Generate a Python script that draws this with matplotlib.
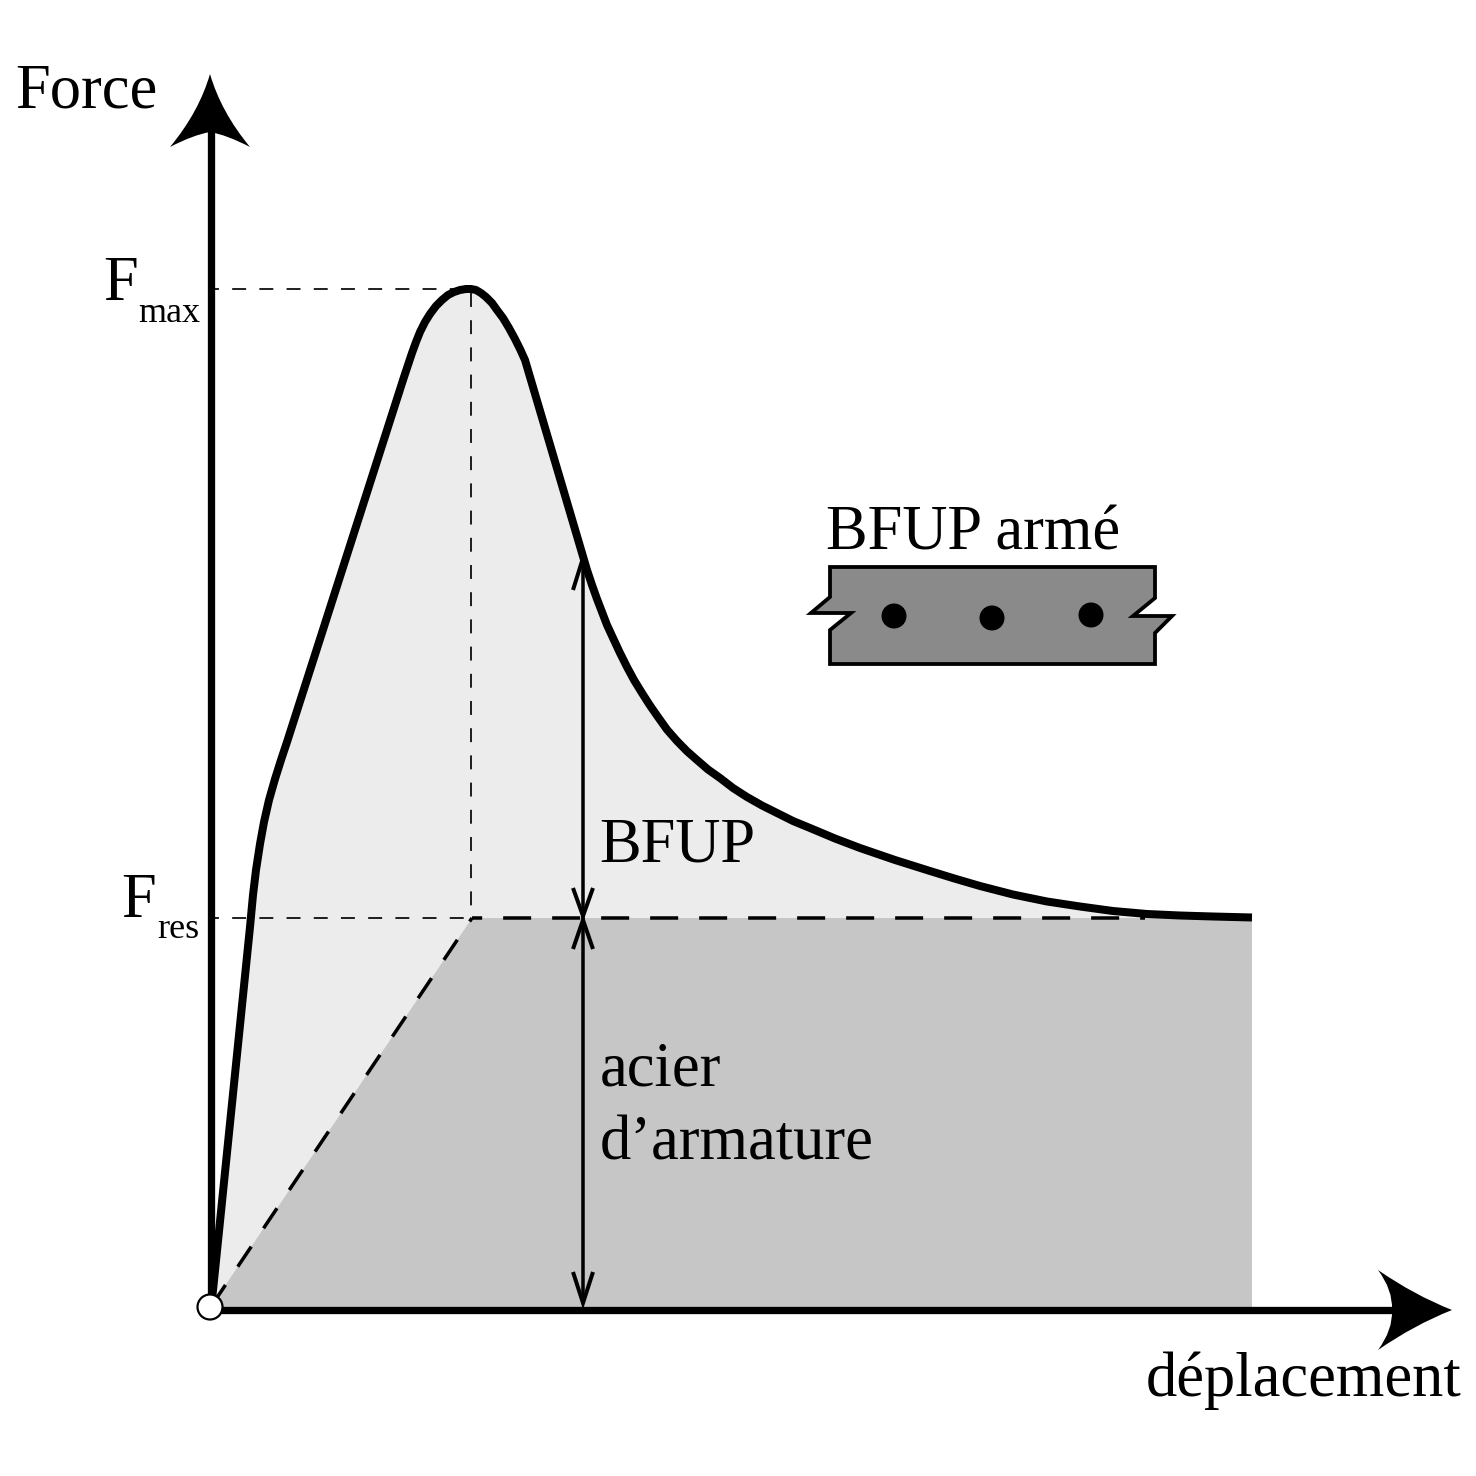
#!/usr/bin/env python3
import matplotlib
matplotlib.use("Agg")
import matplotlib.pyplot as plt
from matplotlib.patches import Circle, PathPatch, Polygon
from matplotlib.path import Path

SIZE = 1476
PX = 0.72  # one pixel in points at dpi 100

curve_x = [212, 250, 253, 256, 260, 264, 269, 275, 281, 287, 404, 408, 412, 416, 420, 425, 430, 436, 442,
           448, 454, 460, 466, 471, 476, 481, 486, 492, 497, 503, 509, 515, 520, 525, 582, 587, 592, 597,
           602, 607, 613, 620, 627, 634, 642, 650, 658, 667, 677, 687, 697, 708, 720, 733, 747, 762,
           777, 793, 810, 835, 860, 895, 930, 955, 980, 1013, 1047, 1080, 1113, 1147, 1180, 1213, 1252]
curve_y = [1300, 927, 895, 870, 844, 822, 800, 779, 760, 742, 377, 365, 353, 342, 332, 322, 314, 306, 300,
           295, 292, 290, 289, 289, 290, 293, 297, 303, 310, 318, 328, 339, 349, 360, 553, 570, 585, 599,
           612, 625, 638, 653, 667, 680, 693, 705.5, 717, 729.6, 741, 751.2, 760, 769.5, 778, 788, 797, 805.5,
           813, 821, 828, 838.5, 848, 860, 871, 878.7, 886, 894.5, 901.5, 906.5, 911, 914, 915.5, 916.5, 917.5]

origin = (212, 1305)
f_res_peak = (472, 918)
curve_end_x = 1252
dash_end_x = 1145
f_res_y = 918
f_max_y = 289
peak_x = 471
y_axis_x = 210.5
x_axis_y = 1310

section_x = [830, 1155, 1155, 1133, 1172, 1155, 1155, 830, 830, 851, 811, 830]
section_y = [567, 567, 598, 616, 616, 633, 664, 664, 630, 613, 613, 597]
bar_x = [894, 992, 1091]
bar_y = [616, 618, 615]

arrow_x = 583
arrow_top = 558
arrow_mid = 918
arrow_bottom = 1303

labels = [
    ("Force", 15, 107, 45),
    ("BFUP armé", 826, 550, 45),
    ("BFUP", 599, 862, 45),
    ("acier", 600, 1085, 45),
    ("d’armature", 600, 1160, 45),
    ("déplacement", 1146, 1396, 45),
    ("F", 103, 300, 45),
    ("max", 138, 322, 26),
    ("F", 121, 917, 45),
    ("res", 157, 938, 26),
]

plt.rcParams["font.family"] = ["Liberation Serif", "DejaVu Serif"]

fig = plt.figure(figsize=(SIZE / 100, SIZE / 100), dpi=100)
ax = fig.add_axes([0, 0, 1, 1])
ax.set_xlim(0, SIZE)
ax.set_ylim(SIZE, 0)
ax.axis("off")

# filled areas
light = list(zip(curve_x, curve_y)) + [(curve_end_x, f_res_y), f_res_peak, origin]
ax.add_patch(Polygon(light, closed=True, fc="#ececec", ec="none", zorder=1))
dark = [origin, f_res_peak, (curve_end_x, f_res_y), (curve_end_x, origin[1] + 2), (origin[0], origin[1] + 2)]
ax.add_patch(Polygon(dark, closed=True, fc="#c6c6c6", ec="none", zorder=1))

# thin guides
thin = dict(color="black", lw=1.7 * PX, linestyle=(5.9, (8.2, 7.8)), dash_capstyle="butt", zorder=2)
ax.plot([215, peak_x], [f_max_y, f_max_y], **thin)
ax.plot([215, peak_x], [f_res_y, f_res_y], **thin)
ax.plot([peak_x, peak_x], [f_max_y + 4, f_res_y], color="black", lw=1.7 * PX, dashes=(8.2, 7.8),
        dash_capstyle="butt", zorder=2)

# thick dashes
ax.plot([f_res_peak[0], dash_end_x], [f_res_y, f_res_y], color="black", lw=3.5 * PX,
        linestyle=(5.1, (8, 6)), dash_capstyle="butt", zorder=3)
ax.plot([origin[0], f_res_peak[0]], [origin[1], f_res_peak[1]], color="black", lw=3.5 * PX,
        dashes=(6.9, 6.3), dash_capstyle="butt", zorder=3)

# main curve
ax.plot(curve_x, curve_y, color="black", lw=8 * PX, solid_joinstyle="round", solid_capstyle="butt", zorder=4)

# two arrows between the levels
ax.plot([arrow_x, arrow_x], [arrow_top, arrow_bottom], color="black", lw=3.5 * PX, solid_capstyle="butt", zorder=5)
for tip, back in [(arrow_top, 590), (arrow_mid - 2, 888), (arrow_mid + 2, 949), (arrow_bottom, 1272)]:
    ax.plot([arrow_x - 10, arrow_x, arrow_x + 10], [back, tip, back], color="black", lw=4 * PX,
            solid_capstyle="butt", solid_joinstyle="miter", zorder=5)

# axes and their heads
ax.plot([y_axis_x, y_axis_x], [1310, 128], color="black", lw=7.3 * PX, solid_capstyle="butt", zorder=6)
ax.plot([208, 1394], [x_axis_y, x_axis_y], color="black", lw=7.3 * PX, solid_capstyle="butt", zorder=6)

up_head = Path(
    [(210, 74), (199, 112), (170, 147), (193, 135), (210, 132), (227, 135), (250, 147), (221, 112), (210, 74)],
    [Path.MOVETO] + [Path.CURVE3] * 8,
)
right_head = Path(
    [(1452, 1310), (1414, 1295), (1378, 1270), (1393, 1290), (1392, 1310), (1393, 1330), (1378, 1350),
     (1414, 1325), (1452, 1310)],
    [Path.MOVETO] + [Path.CURVE3] * 8,
)
ax.add_patch(PathPatch(up_head, fc="black", ec="none", zorder=6))
ax.add_patch(PathPatch(right_head, fc="black", ec="none", zorder=6))

ax.add_patch(Circle((210, 1307), 12.5, fc="white", ec="black", lw=2.2 * PX, zorder=7))

# reinforced section
ax.add_patch(Polygon(list(zip(section_x, section_y)), closed=True, fc="#8a8a8a", ec="black", lw=3.8 * PX,
                     joinstyle="miter", zorder=5))
for x, y in zip(bar_x, bar_y):
    ax.add_patch(Circle((x, y), 12.5, fc="black", ec="none", zorder=6))

for text, x, y, size in labels:
    ax.text(x, y, text, fontsize=size, ha="left", va="baseline", color="black", zorder=8)

fig.savefig("out.png", dpi=100, facecolor="white")
